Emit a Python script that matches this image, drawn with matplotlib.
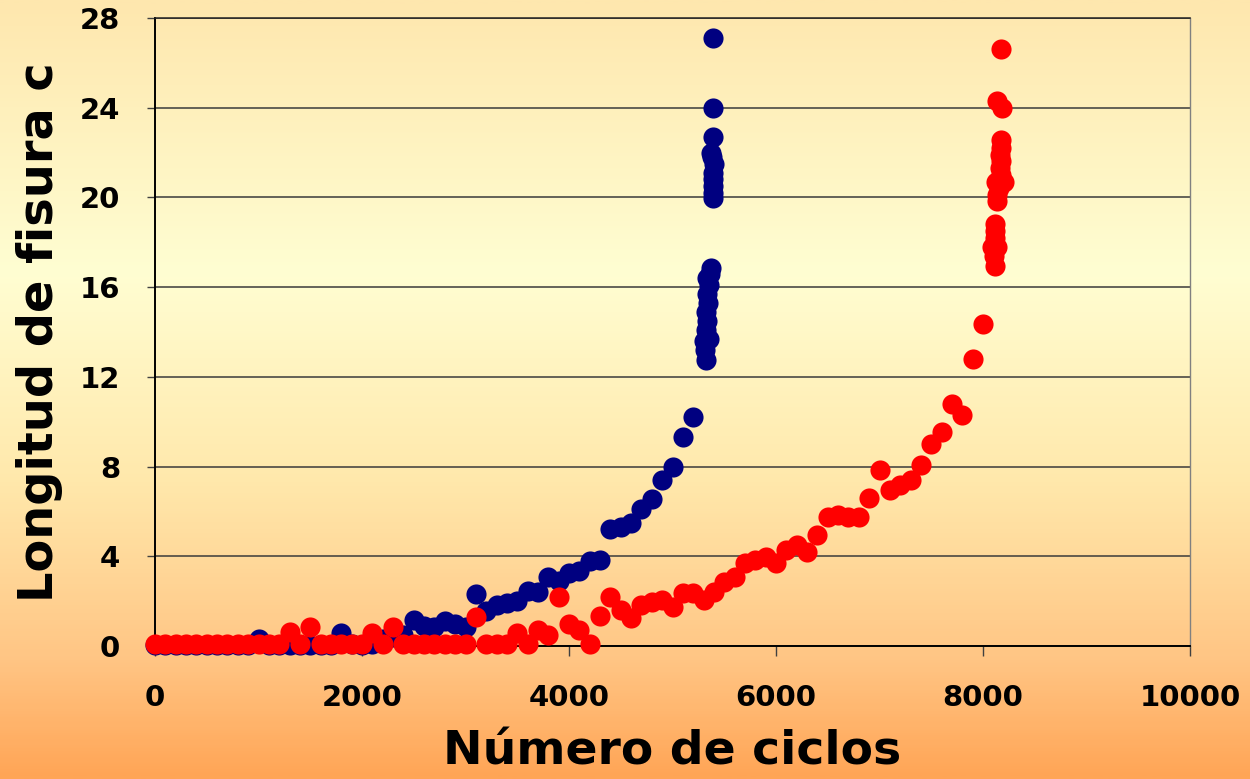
import numpy as np
import matplotlib
matplotlib.use("Agg")
from matplotlib import pyplot as plt
from matplotlib.colors import LinearSegmentedColormap

# Serie azul (probeta 1)
ciclos_azul = [0, 100, 200, 300, 400, 500, 600, 700, 800, 900,
               1000, 1100, 1200, 1300, 1400, 1500, 1600, 1700, 1800, 1900,
               2000, 2100, 2200, 2300, 2400, 2500, 2600, 2700, 2800, 2900,
               3000, 3100, 3200, 3300, 3400, 3500, 3600, 3700, 3800, 3900,
               4000, 4100, 4200, 4300, 4400, 4500, 4600, 4700, 4800, 4900,
               5000, 5100, 5200,
               5320, 5310, 5300, 5350, 5320, 5330, 5320, 5340, 5330, 5350,
               5330, 5360, 5370,
               5390, 5390, 5390, 5390, 5390, 5400, 5370, 5385, 5394,
               5394, 5394]
fisura_azul = [0.05, 0.05, 0.05, 0.05, 0.05, 0.05, 0.05, 0.05, 0.05, 0.05,
               0.3, 0.05, 0.05, 0.05, 0.05, 0.05, 0.05, 0.05, 0.6, 0.1,
               0.05, 0.1, 0.3, 0.4, 0.5, 1.15, 0.9, 0.85, 1.1, 1.0,
               0.85, 2.33, 1.55, 1.83, 1.93, 2.0, 2.45, 2.4, 3.08, 2.9,
               3.27, 3.35, 3.8, 3.85, 5.2, 5.3, 5.5, 6.1, 6.55, 7.4,
               8.0, 9.3, 10.2,
               12.75, 13.2, 13.6, 13.7, 14.1, 14.5, 14.9, 15.3, 15.7, 16.1,
               16.4, 16.6, 16.85,
               19.95, 20.2, 20.5, 20.8, 21.1, 21.5, 22.0, 21.8, 22.7,
               24.0, 27.1]

# Serie roja (probeta 2)
ciclos_rojo = [0, 100, 200, 300, 400, 500, 600, 700, 800, 900,
               1000, 1100, 1200, 1300, 1400, 1500, 1600, 1700, 1800, 1900,
               2000, 2100, 2200, 2300, 2400, 2500, 2600, 2700, 2800, 2900,
               3000, 3100, 3200, 3300, 3400, 3500, 3600, 3700, 3800, 3900,
               4000, 4100, 4200, 4300, 4400, 4500, 4600, 4700, 4800, 4900,
               5000, 5100, 5200, 5300, 5400, 5500, 5600, 5700, 5800, 5900,
               6000, 6100, 6200, 6300, 6400, 6500, 6600, 6700, 6800, 6900,
               7000, 7100, 7200, 7300, 7400, 7500, 7600, 7700, 7800, 7900,
               8000,
               8120, 8110, 8090, 8140, 8120, 8120, 8120,
               8140, 8140, 8150, 8130, 8200, 8170, 8160, 8170, 8160, 8170, 8170,
               8180, 8132, 8174]
fisura_rojo = [0.1, 0.1, 0.1, 0.1, 0.1, 0.1, 0.1, 0.1, 0.1, 0.1,
               0.1, 0.1, 0.1, 0.64, 0.1, 0.86, 0.1, 0.1, 0.1, 0.1,
               0.1, 0.58, 0.1, 0.86, 0.1, 0.1, 0.1, 0.1, 0.1, 0.1,
               0.1, 1.3, 0.1, 0.1, 0.1, 0.58, 0.1, 0.71, 0.49, 2.2,
               0.98, 0.71, 0.1, 1.34, 2.17, 1.6, 1.23, 1.83, 1.97, 2.05,
               1.75, 2.35, 2.35, 2.05, 2.42, 2.87, 3.09, 3.68, 3.83, 3.98,
               3.71, 4.28, 4.5, 4.2, 4.95, 5.77, 5.84, 5.77, 5.77, 6.58,
               7.85, 6.96, 7.2, 7.4, 8.07, 9.0, 9.55, 10.8, 10.3, 12.8,
               14.35,
               16.95, 17.4, 17.8, 17.8, 18.2, 18.5, 18.8,
               19.85, 20.1, 20.4, 20.7, 20.7, 21.0, 21.3, 21.6, 21.9, 22.2, 22.55,
               24.0, 24.3, 26.6]

xticks = [0, 2000, 4000, 6000, 8000, 10000]
yticks = [0, 4, 8, 12, 16, 20, 24, 28]

fig = plt.figure(figsize=(12.5, 7.79), dpi=100)

# fondo degradado amarillo -> naranja
bg = fig.add_axes([0, 0, 1, 1], zorder=-10)
cmap = LinearSegmentedColormap.from_list(
    "fondo",
    [(0.0, "#fee7ae"), (0.35, "#fffed2"), (0.62, "#ffe8ab"),
     (0.85, "#ffc584"), (1.0, "#ffa556")])
bg.imshow(np.linspace(0, 1, 300).reshape(-1, 1), aspect="auto", cmap=cmap,
          extent=[0, 1, 0, 1])
bg.axis("off")

ax = fig.add_axes([0.124, 0.1707, 0.828, 0.8063])
ax.patch.set_alpha(0)

ax.scatter(ciclos_azul, fisura_azul, s=210, color="#000080", linewidths=0,
           zorder=3, clip_on=False)
ax.scatter(ciclos_rojo, fisura_rojo, s=210, color="#ff0000", linewidths=0,
           zorder=4, clip_on=False)

ax.set_xlim(0, 10000)
ax.set_ylim(0, 28)
ax.set_xticks(xticks)
ax.set_yticks(yticks)
ax.yaxis.grid(True, color="#3a3a3a", linewidth=1.1)
ax.set_axisbelow(True)

for s in ["left", "bottom"]:
    ax.spines[s].set_color("black")
    ax.spines[s].set_linewidth(1.4)
ax.spines["top"].set_color("#222222")
ax.spines["top"].set_linewidth(1.1)
ax.spines["right"].set_color("#808080")
ax.spines["right"].set_linewidth(1.0)

ax.tick_params(axis="y", direction="out", length=6, width=1, color="#404040",
               pad=19, labelsize=21)
ax.tick_params(axis="x", direction="out", length=7, width=1, color="#404040",
               pad=20, labelsize=21)
for lab in ax.get_xticklabels() + ax.get_yticklabels():
    lab.set_fontweight("bold")

ax.set_xlabel("Número de ciclos", fontsize=34, fontweight="bold", labelpad=13)
ax.set_ylabel("Longitud de fisura c", fontsize=34.5, fontweight="bold", labelpad=12)

fig.savefig("out.png", dpi=100)
